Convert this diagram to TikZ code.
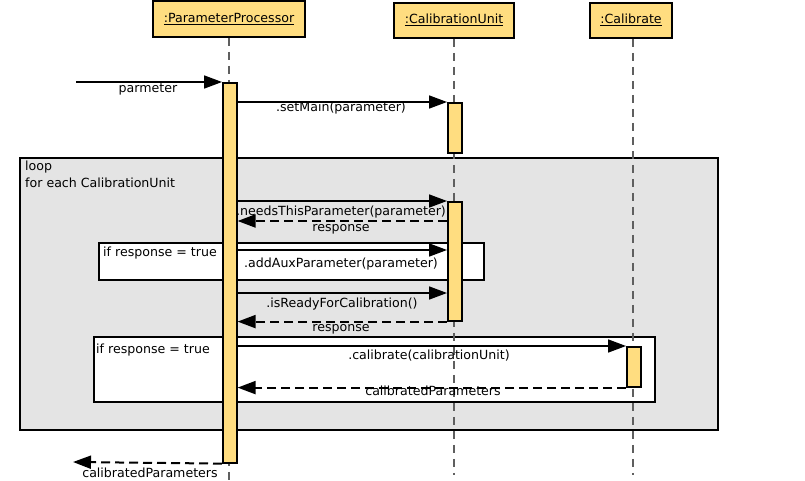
\documentclass[tikz,border=0pt]{standalone}
\usepackage{fontspec}
\setmainfont{DejaVu Sans}
\usetikzlibrary{arrows.meta}
\definecolor{lifey}{RGB}{255,221,128}
\definecolor{loopgray}{RGB}{228,228,228}
\definecolor{lifegray}{RGB}{95,95,95}
\begin{document}
\begin{tikzpicture}[x=1pt,y=-1pt,
  font=\fontsize{12.6}{15}\selectfont,
  head/.style={draw=black,line width=1.6pt,fill=lifey,inner sep=0pt,text height=9.5pt,text depth=2.5pt},
  act/.style={draw=black,line width=1.6pt,fill=lifey,minimum width=14pt,inner sep=0pt,anchor=north west},
  framebox/.style={draw=black,line width=1.6pt,inner sep=0pt,anchor=north west},
  lifeline/.style={draw=lifegray,line width=1.1pt,dash pattern=on 8pt off 6pt},
  msg/.style={line width=1.7pt,-{Triangle[length=18pt,width=13pt]}},
  reply/.style={msg,line width=2pt,dash pattern=on 9pt off 5pt},
  lbl/.style={inner sep=0pt,anchor=base}
]
\useasboundingbox (0,0) rectangle (805,481);

% frames
\node[framebox,fill=loopgray,minimum width=698pt,minimum height=272pt] (loop) at (19,157) {};
\node[framebox,fill=white,minimum width=385pt,minimum height=37pt] (alt1) at (98,242) {};
\node[framebox,fill=white,minimum width=561pt,minimum height=65pt] (alt2) at (93,336) {};
\node[lbl,anchor=base west] (loopl1) at (25,171) {loop};
\node[lbl,anchor=base west] (loopl2) at (25,187) {for each CalibrationUnit};
\node[lbl,anchor=base west] (alt1l) at (103,256) {if response = true};
\node[lbl,anchor=base west] (alt2l) at (96,353) {if response = true};

% heads
\node[head,minimum width=152pt,minimum height=36pt] (pp) at (229,19) {\underline{:ParameterProcessor}};
\node[head,minimum width=120pt,minimum height=35pt] (cu) at (454,20.5) {\underline{:CalibrationUnit}};
\node[head,minimum width=82pt,minimum height=35pt] (ca) at (631,20.5) {\underline{:Calibrate}};

% lifelines
\coordinate (ppend) at (229,481);
\coordinate (cuend) at (454,475);
\coordinate (caend) at (633,475);
\draw[lifeline] (pp.south) -- (ppend);
\draw[lifeline] (cu.south) -- (cuend);
\draw[lifeline] (ca.south -| caend) -- (caend);

% activations
\node[act,minimum height=380pt] (pa) at (222,82) {};
\node[act,minimum height=50pt] (cu1) at (447,102) {};
\node[act,minimum height=119pt] (cu2) at (447,201) {};
\node[act,minimum height=40pt] (ca1) at (626,346) {};

% messages
\coordinate (in) at (76,82);
\coordinate (r1) at (447,221);
\coordinate (a1) at (447,250);
\coordinate (a2) at (447,293);
\coordinate (out) at (73,462);

\draw[msg] (in) -- (pa.north west);
\node[lbl] (l0) at (148,92.5) {parmeter};

\draw[msg] (pa.east |- cu1.north) -- (cu1.north west);
\node[lbl] (l1) at (341,112) {.setMain(parameter)};

\draw[msg] (pa.east |- cu2.north) -- (cu2.north west);
\node[lbl] (l2) at (341,215) {.needsThisParameter(parameter)};

\draw[reply] (r1) -- (pa.east |- r1);
\node[lbl] (l3) at (341,231) {response};

\draw[msg] (pa.east |- a1) -- (a1);
\node[lbl] (l4) at (341,267) {.addAuxParameter(parameter)};

\draw[msg] (pa.east |- a2) -- (a2);
\node[lbl] (l5) at (342,307) {.isReadyForCalibration()};

\draw[reply] (cu2.south west) -- (pa.east |- cu2.south);
\node[lbl] (l6) at (341,331) {response};

\draw[msg] (pa.east |- ca1.north) -- (ca1.north west);
\node[lbl] (l7) at (429,359.5) {.calibrate(calibrationUnit)};

\draw[reply] (ca1.south west) -- (pa.east |- ca1.south);
\node[lbl] (l8) at (433,395.5) {calibratedParameters};

\draw[reply] (pa.south west) -- (out);
\node[lbl] (l9) at (150,477) {calibratedParameters};
\end{tikzpicture}
\end{document}
